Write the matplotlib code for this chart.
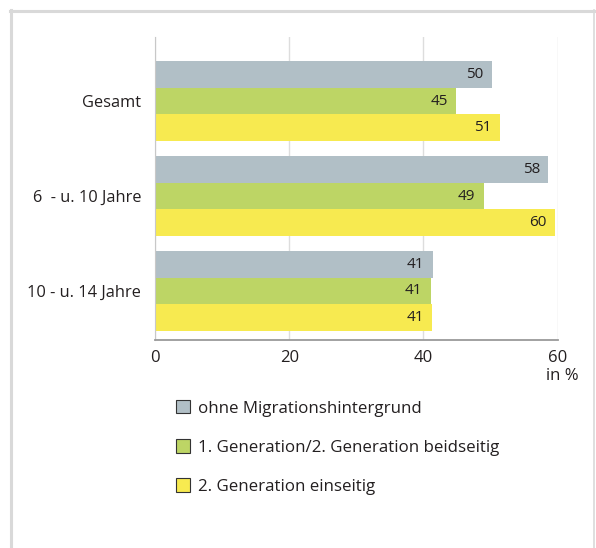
import matplotlib.pyplot as plt
from matplotlib.patches import Patch
from matplotlib.lines import Line2D

# Daten (Anteile in %)
kategorien = ['Gesamt', '6  - u. 10 Jahre', '10 - u. 14 Jahre']
serien = ['ohne Migrationshintergrund',
          '1. Generation/2. Generation beidseitig',
          '2. Generation einseitig']
ohne_migration = [50.2, 58.6, 41.4]
generation_1_2 = [44.9, 49.0, 41.1]
generation_2_einseitig = [51.4, 59.6, 41.3]
beschriftung_ohne = ['50', '58', '41']
beschriftung_gen12 = ['45', '49', '41']
beschriftung_gen2 = ['51', '60', '41']
xticks = [0, 20, 40, 60]

farben = ['#b1bfc6', '#bdd565', '#f7ea50']
textfarbe = '#231f20'

plt.rcParams['font.family'] = ['Open Sans', 'DejaVu Sans']

fig = plt.figure(figsize=(5.96, 5.48), dpi=100)
W, H = 596, 548
ax = fig.add_axes([155 / W, 1 - 340 / H, 402.7 / W, 303 / H])

h = 0.281
werte = [ohne_migration, generation_1_2, generation_2_einseitig]
texte = [beschriftung_ohne, beschriftung_gen12, beschriftung_gen2]
for i, (vals, labs) in enumerate(zip(werte, texte)):
    pos = [k + (i - 1) * h for k in range(len(kategorien))]
    ax.barh(pos, vals, height=h, color=farben[i], zorder=2)
    for p, v, t in zip(pos, vals, labs):
        ax.annotate(t, (v, p), xytext=(-6, 0), textcoords='offset points',
                    ha='right', va='center', fontsize=11, color=textfarbe, zorder=3)

ax.set_xlim(0, 60)
ax.set_ylim(2.516, -0.674)
ax.set_xticks(xticks)
ax.set_xticklabels([str(x) for x in xticks], fontsize=12, color=textfarbe)
ax.set_yticks(range(len(kategorien)))
ax.set_yticklabels(kategorien, fontsize=11.8, color=textfarbe)
ax.tick_params(axis='x', length=0, pad=7)
ax.tick_params(axis='y', length=0, pad=10)
ax.grid(axis='x', color='#dddddd', lw=1, zorder=0)
for s in ['top', 'right']:
    ax.spines[s].set_visible(False)
ax.spines['left'].set_color('#c8c8c8')
ax.spines['left'].set_linewidth(0.8)
ax.spines['bottom'].set_color('#9a9a9a')
ax.spines['bottom'].set_linewidth(1.3)

fig.text(546 / W, 1 - 376 / H, 'in %', ha='left', va='center', fontsize=12, color=textfarbe)

# Legende
handles = [Patch(facecolor=c, edgecolor='#333333', lw=0.8) for c in farben]
fig.legend(handles, serien, loc='upper left', bbox_to_anchor=(176 / W, 1 - 400 / H),
           frameon=False, borderpad=0, borderaxespad=0, fontsize=12.2,
           handlelength=0.84, handleheight=0.84, handletextpad=0.45,
           labelspacing=1.33, labelcolor=textfarbe)

# Rahmen
rahmen = '#d9d9d9'
fig.add_artist(Line2D([11 / W, 11 / W], [0, 1 - 10 / H], color=rahmen, lw=2.2))
fig.add_artist(Line2D([10 / W, 594 / W], [1 - 10.5 / H, 1 - 10.5 / H], color=rahmen, lw=2.2))
fig.add_artist(Line2D([594 / W, 594 / W], [0, 1 - 10 / H], color=rahmen, lw=1.2))

fig.savefig('out.png', dpi=100, facecolor='white')
